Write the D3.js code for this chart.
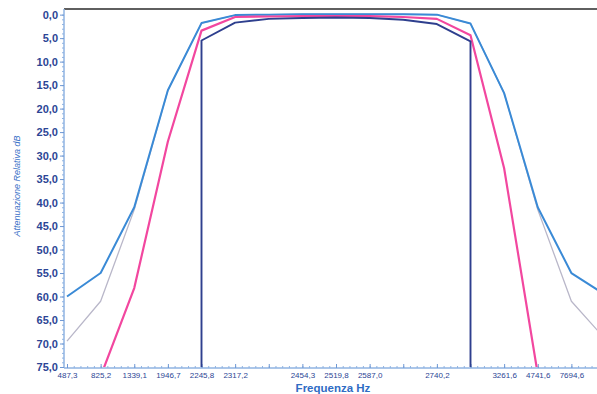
<!DOCTYPE html>
<html>
<head>
<meta charset="utf-8">
<script src="https://cdn.jsdelivr.net/npm/d3@7"></script>
<style>
  html, body { margin: 0; padding: 0; background: #ffffff; }
  svg { display: block; }
</style>
</head>
<body>
<svg id="chart" width="597" height="394"></svg>
<script>
// Frequency points of the sweep (Hz); blank entries are unlabelled ticks
const categories = ["487,3", "825,2", "1339,1", "1946,7", "2245,8", "2317,2", "", "2454,3",
                    "2519,8", "2587,0", "", "2740,2", "", "3261,6", "4741,6", "7694,6", ""];

// Relative attenuation (dB) for each response curve
const outerBlue = [60.0, 55.0, 41.0, 16.1, 1.8, 0.1, 0.0, -0.1, -0.1, -0.1, -0.1, 0.0, 1.9, 16.7, 41.0, 55.0, 59.6];
const greyCurve = [69.5, 61.0, 41.5, 16.1, 1.8, 0.1, 0.0, -0.1, -0.1, -0.1, -0.1, 0.0, 1.9, 16.7, 41.5, 61.0, 69.0];
const pinkCurve = [null, 77.0, 58.2, 27.0, 3.4, 0.5, 0.4, 0.3, 0.3, 0.3, 0.5, 0.9, 4.4, 32.7, 76.5, null, null];
// Inner band-pass mask: point index and attenuation (drops vertically at both edges)
const maskIndex = [4, 4, 5, 6, 7, 8, 9, 10, 11, 12, 12];
const maskValue = [75.0, 5.5, 1.7, 0.9, 0.7, 0.6, 0.7, 1.1, 2.0, 5.7, 75.0];

const yTicks = d3.range(0, 76, 5);

const svg = d3.select("#chart");
const plotLeft = 64, plotRight = 597, plotTop = 9, plotBottom = 367;

const x = d3.scalePoint().domain(d3.range(categories.length)).range([67, 605]);
const xMinor = d3.scaleLinear().domain([0, categories.length - 1]).range([67, 605]);
const y = d3.scaleLinear().domain([-1.2, 75]).range([plotTop, plotBottom]);

const fmt = d => d.toFixed(1).replace(".", ",");

// clip region for the curves
svg.append("defs").append("clipPath").attr("id", "plot")
  .append("rect").attr("x", plotLeft).attr("y", plotTop)
  .attr("width", plotRight - plotLeft + 20).attr("height", plotBottom - plotTop);

// top frame line
svg.append("line")
  .attr("x1", plotLeft).attr("x2", plotRight).attr("y1", plotTop).attr("y2", plotTop)
  .attr("stroke", "#2a2a2a").attr("stroke-width", 1.6);

// Y axis: minor ticks every dB, major ticks every 5 dB
const yMinor = svg.append("g").attr("transform", `translate(${plotLeft},0)`)
  .call(d3.axisLeft(y).tickValues(d3.range(0, 76, 1)).tickSize(2).tickFormat(""));
yMinor.select(".domain").remove();
yMinor.selectAll("line").attr("stroke", "#8fb3e2");

const yAxis = svg.append("g").attr("transform", `translate(${plotLeft},0)`)
  .call(d3.axisLeft(y).tickValues(yTicks).tickSize(4).tickPadding(2).tickFormat(fmt));
yAxis.select(".domain").attr("d", `M0,${plotTop}V${plotBottom + 1}`).attr("stroke", "#8fb3e2").attr("stroke-width", 1.5);
yAxis.selectAll("line").attr("stroke", "#6f98d4");
yAxis.selectAll("text")
  .attr("fill", "#2c4595").attr("font-family", "Liberation Sans, Arial, sans-serif")
  .attr("font-weight", "bold").attr("font-size", "11px");

// X axis: minor and major ticks pointing into the plot
const xMin = svg.append("g").attr("transform", `translate(0,${plotBottom + 1})`)
  .call(d3.axisBottom(xMinor).tickValues(d3.range(0, categories.length - 1, 0.2)).tickSize(-2).tickFormat(""));
xMin.select(".domain").remove();
xMin.selectAll("line").attr("stroke", "#8fb3e2");

const xAxis = svg.append("g").attr("transform", `translate(0,${plotBottom + 1})`)
  .call(d3.axisBottom(x).tickSize(-4).tickFormat(i => categories[i]));
xAxis.select(".domain").attr("d", `M${plotLeft},0H${plotRight}`).attr("stroke", "#8fb3e2").attr("stroke-width", 1.5);
xAxis.selectAll("line").attr("stroke", "#6f98d4");
xAxis.selectAll("text")
  .attr("y", 4).attr("dy", "0.71em")
  .attr("fill", "#2c4595").attr("font-family", "Liberation Sans, Arial, sans-serif")
  .attr("font-size", "8px");

// axis titles
svg.append("text")
  .attr("x", 333).attr("y", 392).attr("text-anchor", "middle")
  .attr("fill", "#2f6cc4").attr("font-family", "Liberation Sans, Arial, sans-serif")
  .attr("font-weight", "bold").attr("font-size", "11.5px")
  .text("Frequenza Hz");

svg.append("text")
  .attr("transform", "translate(20,186) rotate(-90)").attr("text-anchor", "middle")
  .attr("fill", "#3a72c8").attr("font-family", "Liberation Sans Narrow, Liberation Sans, Arial, sans-serif")
  .attr("font-style", "italic").attr("font-size", "9px")
  .text("Attenuazione Relativa dB");

// curves
const plot = svg.append("g").attr("clip-path", "url(#plot)");
const line = d3.line()
  .defined(d => d[1] != null)
  .x(d => x(d[0])).y(d => y(d[1]));

const series = [
  { values: greyCurve, color: "#b9b7c9", width: 1.3 },
  { values: outerBlue, color: "#3a8ad6", width: 2.0 },
  { values: pinkCurve, color: "#f2479f", width: 2.2 }
];
series.forEach(s => {
  plot.append("path")
    .datum(s.values.map((v, i) => [i, v]))
    .attr("d", line)
    .attr("fill", "none").attr("stroke", s.color)
    .attr("stroke-width", s.width).attr("stroke-linejoin", "round");
});

plot.append("path")
  .datum(maskIndex.map((i, k) => [i, maskValue[k]]))
  .attr("d", line)
  .attr("fill", "none").attr("stroke", "#2e3f8e")
  .attr("stroke-width", 1.9).attr("stroke-linejoin", "round");
</script>
</body>
</html>
